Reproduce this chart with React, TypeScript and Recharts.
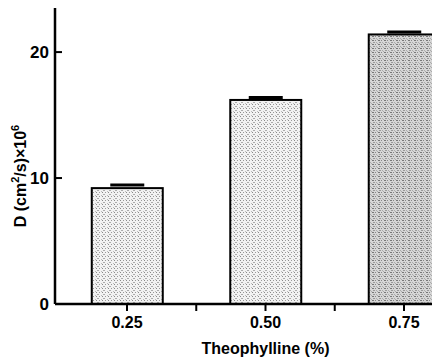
import { BarChart, Bar, XAxis, YAxis } from 'recharts'

const concentration = [0.25, 0.5, 0.75]
const diffusion = [9.2, 16.2, 21.4]
const errorUp = [0.25, 0.2, 0.2]
const patternIds = ['speckleLight', 'speckleLight', 'speckleDark']

const xTicks = [0.25, 0.375, 0.5, 0.625, 0.75]
const yTicks = [0, 10, 20]

const data = concentration.map((c, i) => ({
  c,
  d: diffusion[i],
  err: errorUp[i],
  pat: patternIds[i],
}))

const FONT = '"Liberation Sans", Arial, sans-serif'

// bar with the upper error cap only, as in the scan
const BarWithCap = (props: any) => {
  const { x, y, width, height, payload } = props
  const perUnit = height / payload.d
  const capY = y - payload.err * perUnit
  const cx = x + width / 2
  return (
    <g>
      <rect x={x} y={y} width={width} height={height} fill={`url(#${payload.pat})`} stroke="#000" strokeWidth={2} />
      <line x1={cx - 17} x2={cx + 17} y1={capY} y2={capY} stroke="#000" strokeWidth={3} />
    </g>
  )
}

const YTick = (props: any) => {
  const { x, y, payload } = props
  return (
    <g>
      {payload.value !== 0 && <line x1={x} x2={x + 7} y1={y} y2={y} stroke="#000" strokeWidth={2} />}
      <text x={x - 6} y={y} dy="0.36em" textAnchor="end" fontFamily={FONT} fontWeight="bold" fontSize={17} fill="#000">
        {payload.value}
      </text>
    </g>
  )
}

const XTick = (props: any) => {
  const { x, y, payload } = props
  const major = concentration.includes(payload.value)
  return (
    <g>
      <line x1={x} x2={x} y1={y} y2={y + 7} stroke="#000" strokeWidth={2} />
      {major && (
        <text x={x} y={y + 13} dy="0.71em" textAnchor="middle" fontFamily={FONT} fontWeight="bold" fontSize={16} fill="#000">
          {payload.value.toFixed(2)}
        </text>
      )}
    </g>
  )
}

export default function App() {
  return (
    <div style={{ position: 'absolute', left: 0, top: 0, width: 432, height: 360, overflow: 'hidden', background: '#fff' }}>
      <BarChart width={476} height={360} data={data} margin={{ top: 8, right: 0, bottom: 0, left: 0 }}>
        <defs>
          <pattern id="speckleLight" width="6" height="4" patternUnits="userSpaceOnUse">
            <rect width="6" height="4" fill="#f2f2f2" />
            <rect x="0" y="0" width="1" height="1" fill="#888" />
            <rect x="3" y="0" width="1" height="1" fill="#999" />
            <rect x="1" y="2" width="2" height="1" fill="#aaa" />
            <rect x="5" y="3" width="1" height="1" fill="#bbb" />
          </pattern>
          <pattern id="speckleDark" width="6" height="4" patternUnits="userSpaceOnUse">
            <rect width="6" height="4" fill="#d6d6d6" />
            <rect x="0" y="0" width="2" height="1" fill="#777" />
            <rect x="3" y="0" width="1" height="1" fill="#888" />
            <rect x="1" y="2" width="2" height="1" fill="#999" />
            <rect x="4" y="2" width="1" height="1" fill="#aaa" />
            <rect x="5" y="3" width="1" height="1" fill="#aaa" />
          </pattern>
        </defs>
        <XAxis
          dataKey="c"
          type="number"
          domain={[0.12, 0.88]}
          ticks={xTicks}
          interval={0}
          height={56}
          axisLine={{ stroke: '#000', strokeWidth: 2.5 }}
          tickLine={false}
          tickSize={0}
          tickMargin={0}
          tick={<XTick />}
          label={{
            content: (p: any) => {
              const vb = p.viewBox
              return (
                <text
                  x={vb.x + vb.width / 2}
                  y={354}
                  textAnchor="middle"
                  fontFamily={FONT}
                  fontWeight="bold"
                  fontSize={16}
                  fill="#000"
                >
                  Theophylline (%)
                </text>
              )
            },
          }}
        />
        <YAxis
          type="number"
          domain={[0, 23.5]}
          ticks={yTicks}
          width={55}
          axisLine={{ stroke: '#000', strokeWidth: 2.5 }}
          tickLine={false}
          tickSize={0}
          tickMargin={0}
          tick={<YTick />}
          label={{
            content: () => (
              <text
                transform="translate(26,176) rotate(-90)"
                textAnchor="middle"
                fontFamily={FONT}
                fontWeight="bold"
                fontSize={16}
                fill="#000"
              >
                D (cm
                <tspan fontSize={11} dy={-7}>2</tspan>
                <tspan dy={7}>/s)×10</tspan>
                <tspan fontSize={11} dy={-7}>6</tspan>
              </text>
            ),
          }}
        />
        <Bar dataKey="d" barSize={71} shape={<BarWithCap />} isAnimationActive={false} />
      </BarChart>
    </div>
  )
}
